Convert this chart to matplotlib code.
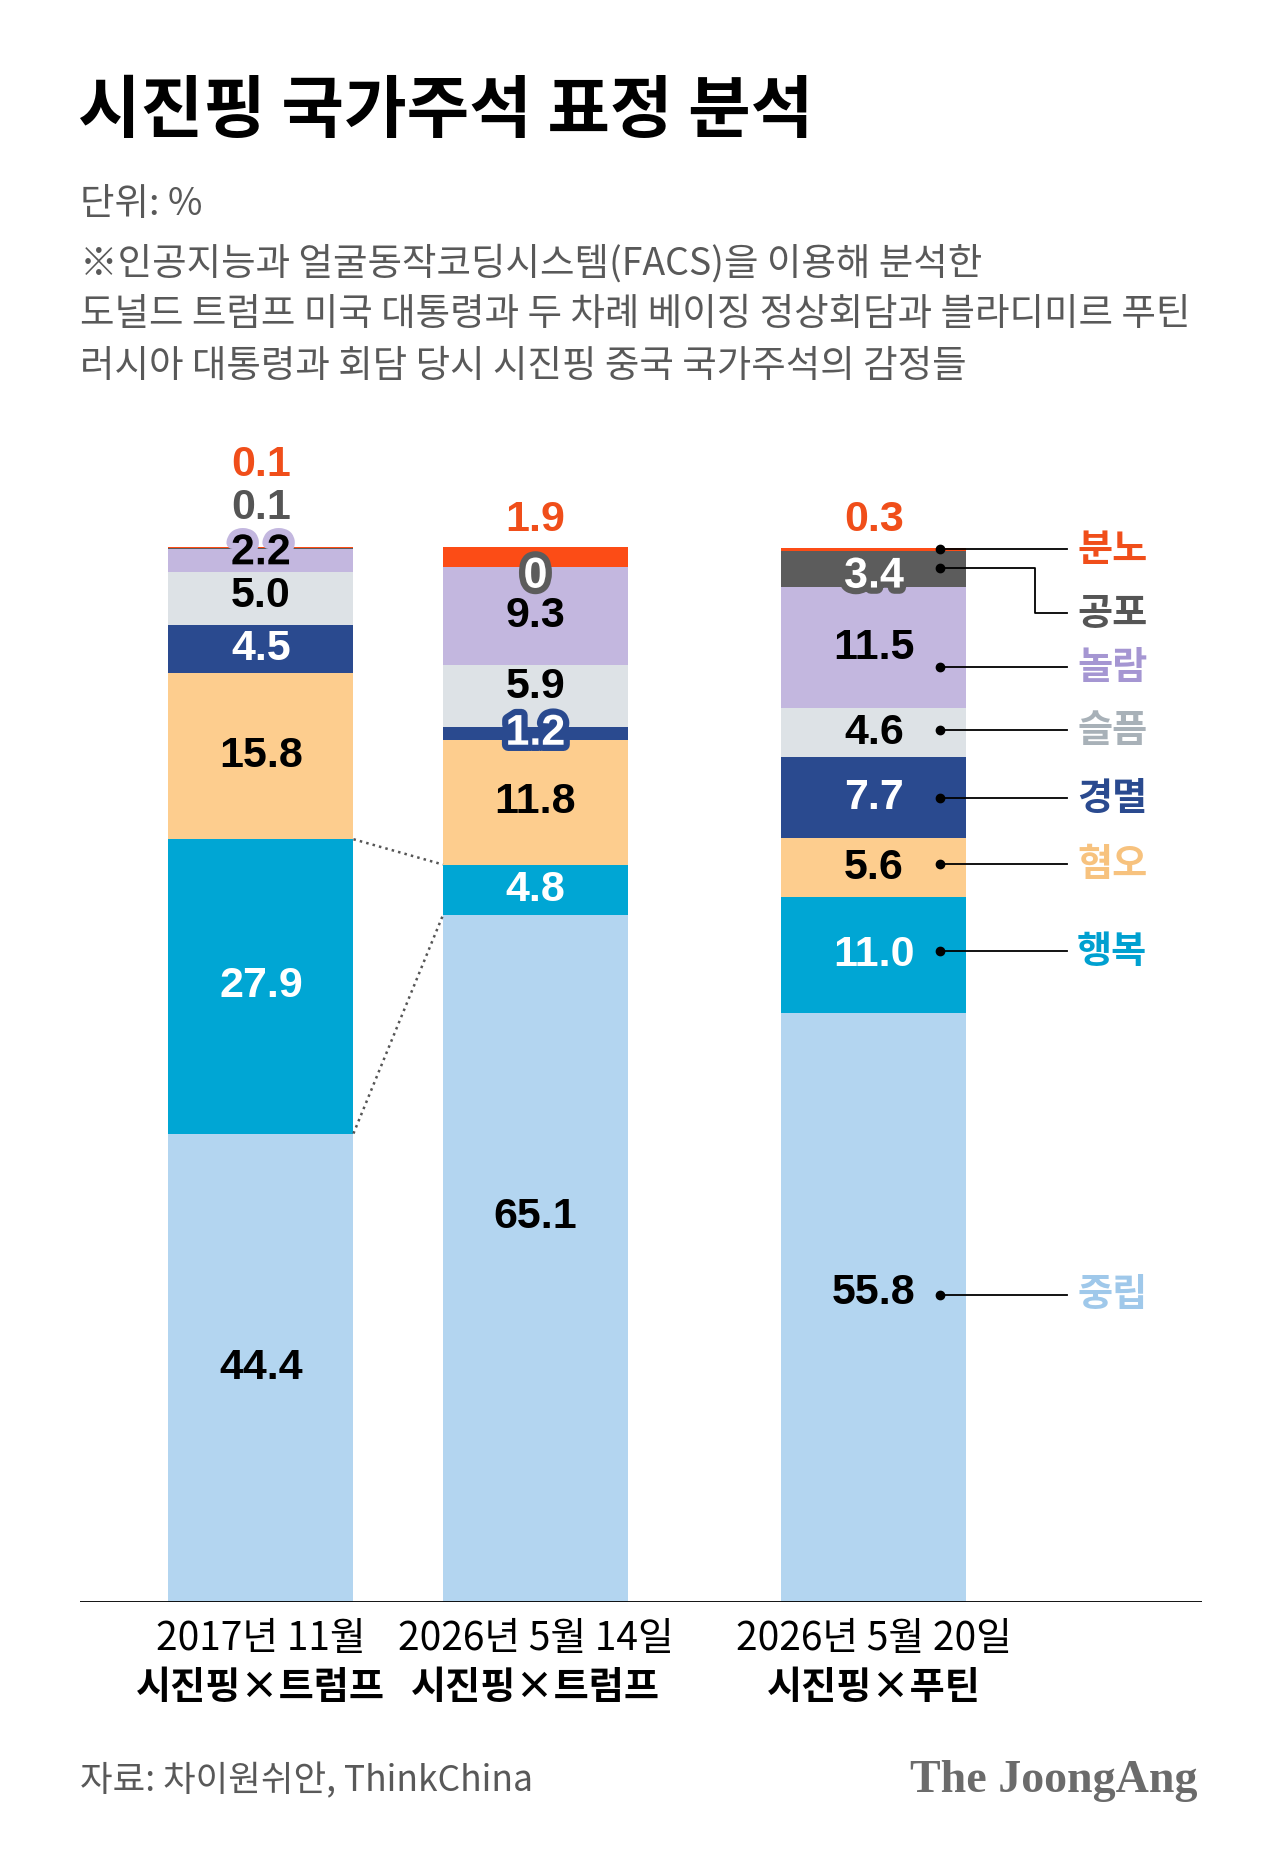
import numpy as np
import matplotlib
matplotlib.use("Agg")
import matplotlib.pyplot as plt
import matplotlib.patheffects as pe

# data (%), stacked bottom -> top
emotions = ["중립", "행복", "혐오", "경멸", "슬픔", "놀람", "공포", "분노"]
trump_2017 = [44.4, 27.9, 15.8, 4.5, 5.0, 2.2, 0.1, 0.1]
trump_2026 = [65.1, 4.8, 11.8, 1.2, 5.9, 9.3, 0.0, 1.9]
putin_2026 = [55.8, 11.0, 5.6, 7.7, 4.6, 11.5, 3.4, 0.3]
dates = ["2017년 11월", "2026년 5월 14일", "2026년 5월 20일"]
pairs = ["시진핑×트럼프", "시진핑×트럼프", "시진핑×푸틴"]

title = "시진핑 국가주석 표정 분석"
unit = "단위: %"
notes = [
    "※인공지능과 얼굴동작코딩시스템(FACS)을 이용해 분석한",
    "도널드 트럼프 미국 대통령과 두 차례 베이징 정상회담과 블라디미르 푸틴",
    "러시아 대통령과 회담 당시 시진핑 중국 국가주석의 감정들",
]
source = "자료: 차이원쉬안, ThinkChina"

# styles
seg_colors = ["#b3d5f0", "#00a6d4", "#fdcd8e", "#2a4a8f",
              "#dde2e6", "#c3b7df", "#5c5c5c", "#fc4c16"]
legend_colors = ["#9fc8ea", "#00a0d0", "#f7c27e", "#2a4a8f",
                 "#a8b1b8", "#a596d2", "#555555", "#f04e1a"]
text_colors = ["black", "white", "black", "white",
               "black", "black", "white", "#f04e1a"]

KR = ["Noto Sans CJK KR", "DejaVu Sans"]
NUM = ["Liberation Sans", "Noto Sans CJK KR"]

W, H = 1280, 1861
fig = plt.figure(figsize=(W / 100, H / 100), dpi=100)
fig.patch.set_facecolor("white")


def fx(px):
    return px / W


def fy(py):
    return 1 - py / H


# axes: y=0 at 1602px, 100% = 1055px
ax = fig.add_axes([fx(80), fy(1602), fx(1202) - fx(80), 1160.5 / H])
ax.set_xlim(-0.659, 3.428)
ax.set_ylim(0, 110)
ax.axis("off")

bar_x = [0, 1, 2.233]
bar_w = 0.674
series = [trump_2017, trump_2026, putin_2026]

# label positions that differ from the segment centre
label_y = [
    {4: 95.4, 5: 99.4, 6: 103.7, 7: 107.8},
    {0: 36.5, 4: 86.7, 6: 97.2, 7: 102.6},
    {0: 29.3, 6: 97.2, 7: 102.6},
]
halo = {
    (0, 5): ("black", "#c3b7df"),
    (0, 6): ("#555555", None),
    (1, 3): ("white", "#2a4a8f"),
    (1, 6): ("white", "#5c5c5c"),
    (2, 6): ("white", "#5c5c5c"),
}

for b, vals in enumerate(series):
    bottoms = np.concatenate([[0], np.cumsum(vals)[:-1]])
    ax.bar(bar_x[b], vals, bottom=bottoms, width=bar_w,
           color=seg_colors, linewidth=0)
    for i, v in enumerate(vals):
        y = label_y[b].get(i, bottoms[i] + v / 2)
        txt = f"{v:.1f}" if v else "0"
        col, stroke = halo.get((b, i), (text_colors[i], None))
        t = ax.text(bar_x[b], y, txt, ha="center", va="center",
                    fontsize=31, fontweight="bold", family=NUM, color=col)
        if stroke:
            t.set_path_effects([pe.withStroke(linewidth=9, foreground=stroke)])

# dotted connectors for 행복 between first two bars
c0 = np.cumsum(trump_2017)
c1 = np.cumsum(trump_2026)
x0, x1 = bar_x[0] + bar_w / 2, bar_x[1] - bar_w / 2
ax.plot([x0, x1], [c0[1], c1[1]], ls=":", color="#555555", lw=1.8)
ax.plot([x0, x1], [c0[0], c1[0]], ls=":", color="#555555", lw=1.8)

# legend on the right of the third bar
dot_x, line_end, elbow_x, text_x = 2.474, 2.936, 2.82, 2.973
dot_y = [29.1, 61.7, 69.95, 76.2, 82.65, 88.6, 98.0, 99.8]
name_y = [29.1, 61.7, 69.95, 76.2, 82.65, 88.6, 93.7, 99.8]
for i, name in enumerate(emotions):
    if dot_y[i] == name_y[i]:
        ax.plot([dot_x, line_end], [dot_y[i], dot_y[i]], color="black", lw=1.3)
    else:
        ax.plot([dot_x, elbow_x, elbow_x, line_end],
                [dot_y[i], dot_y[i], name_y[i], name_y[i]], color="black", lw=1.3)
    ax.plot(dot_x, dot_y[i], "o", color="black", ms=6)
    ax.text(text_x, name_y[i], name, ha="left", va="center", fontsize=27.5,
            family=KR, fontweight="bold", color=legend_colors[i])

ax.axhline(0, color="black", lw=1.3)

# x labels
for b in range(3):
    px = fig.transFigure.inverted().transform(ax.transData.transform((bar_x[b], 0)))[0]
    fig.text(px, fy(1639), dates[b], ha="center", va="center",
             fontsize=28, family=KR, color="black")
    fig.text(px, fy(1688), pairs[b], ha="center", va="center",
             fontsize=27.5, family=KR, fontweight="bold", color="black")

# header
fig.text(fx(78), fy(113), title, ha="left", va="center",
         fontsize=49, family=KR, fontweight="black", color="black")
fig.text(fx(80), fy(204), unit, ha="left", va="center",
         fontsize=27, family=KR, fontweight="medium", color="#595959")
for k, line in enumerate(notes):
    fig.text(fx(80), fy(264 + 51 * k), line, ha="left", va="center",
             fontsize=27, family=KR, fontweight="medium", color="#595959")

# footer
fig.text(fx(80), fy(1781), source, ha="left", va="center",
         fontsize=25.5, family=KR, fontweight="medium", color="#595959")
fig.text(fx(1197), fy(1781), "The JoongAng", ha="right", va="center",
         fontsize=33, family="Liberation Serif", fontweight="bold",
         color="#6b6b6b")

fig.savefig("out.png", dpi=100, facecolor="white")
